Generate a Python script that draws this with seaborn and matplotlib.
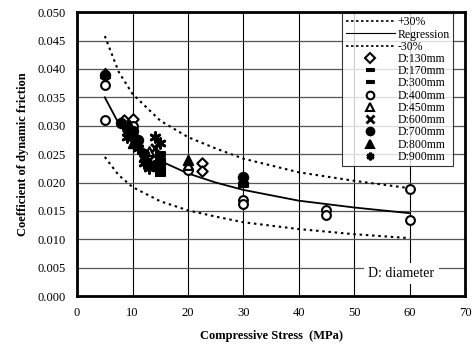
import matplotlib
matplotlib.use('Agg')
import numpy as np
import pandas as pd
import seaborn as sns
import matplotlib.pyplot as plt
from matplotlib.lines import Line2D
from matplotlib.ticker import FormatStrFormatter

# curve values
curve_x = [5, 7.5, 10, 15, 20, 25, 30, 40, 50, 60]
reg_y = [0.0350, 0.0304, 0.0274, 0.0238, 0.0216, 0.0200, 0.0187, 0.0168, 0.0156, 0.0146]
up_y = [0.0458, 0.0395, 0.0356, 0.0309, 0.0280, 0.0260, 0.0242, 0.0218, 0.0203, 0.0190]
lo_y = [0.0245, 0.0213, 0.0192, 0.0167, 0.0151, 0.0140, 0.0130, 0.0118, 0.0109, 0.0102]

# test points per diameter
d130_x = [8.5, 9.5, 10, 22.5, 22.5]
d130_y = [0.0310, 0.0305, 0.0312, 0.0234, 0.0220]
d170_x = [10, 12, 15]
d170_y = [0.0280, 0.0250, 0.0230]
d300_x = [15, 15, 15, 15, 15, 15, 30]
d300_y = [0.0215, 0.0220, 0.0226, 0.0232, 0.0240, 0.0250, 0.0195]
d400_x = [5, 5, 9, 10, 20, 30, 30, 45, 45, 60, 60]
d400_y = [0.0371, 0.0310, 0.0295, 0.0300, 0.0222, 0.0170, 0.0162, 0.0151, 0.0143, 0.0188, 0.0134]
d450_x = [10, 13, 20]
d450_y = [0.0285, 0.0255, 0.0230]
d600_x = [9, 11, 13, 14]
d600_y = [0.0290, 0.0270, 0.0240, 0.0260]
d700_x = [5, 8, 9, 10, 10, 11, 12, 14, 30]
d700_y = [0.0389, 0.0305, 0.0300, 0.0290, 0.0280, 0.0275, 0.0250, 0.0230, 0.0210]
d800_x = [5, 10, 12, 13, 15, 20]
d800_y = [0.0392, 0.0270, 0.0245, 0.0235, 0.0245, 0.0240]
d900_x = [9, 11, 12, 13, 14, 15, 30]
d900_y = [0.0280, 0.0260, 0.0235, 0.0225, 0.0280, 0.0270, 0.0205]

bar_s = [(-1, -0.35), (1, -0.35), (1, 0.35), (-1, 0.35)]
# label, xs, ys, marker, filled, size
groups = [
    ('D:130mm', d130_x, d130_y, 'D', False, 28),
    ('D:170mm', d170_x, d170_y, bar_s, True, 30),
    ('D:300mm', d300_x, d300_y, bar_s, True, 60),
    ('D:400mm', d400_x, d400_y, 'o', False, 40),
    ('D:450mm', d450_x, d450_y, '^', False, 40),
    ('D:600mm', d600_x, d600_y, 'x', True, 40),
    ('D:700mm', d700_x, d700_y, 'o', True, 45),
    ('D:800mm', d800_x, d800_y, '^', True, 45),
    ('D:900mm', d900_x, d900_y, (6, 2, 0), True, 50),
]

plt.rcParams['font.family'] = ['Liberation Serif', 'DejaVu Serif']
plt.rcParams['font.size'] = 9

fig = plt.figure(figsize=(4.73, 3.58), dpi=100)
ax = fig.add_axes([0.163, 0.173, 0.820, 0.793])

ax.grid(axis='x', color='black', lw=0.8)
ax.grid(axis='y', color='#555555', lw=0.9)
ax.set_axisbelow(True)

curves = pd.DataFrame({'x': curve_x, 'reg': reg_y, 'up': up_y, 'lo': lo_y})
sns.lineplot(data=curves, x='x', y='up', ax=ax, color='black', lw=1.5, linestyle=(0, (1.2, 1.8)))
sns.lineplot(data=curves, x='x', y='reg', ax=ax, color='black', lw=1.3)
sns.lineplot(data=curves, x='x', y='lo', ax=ax, color='black', lw=1.5, linestyle=(0, (1.2, 1.8)))

handles = [
    Line2D([], [], color='black', lw=1.2, linestyle=(0, (1.5, 1.5)), label='+30%'),
    Line2D([], [], color='black', lw=0.8, label='Regression'),
    Line2D([], [], color='black', lw=1.2, linestyle=(0, (1.5, 1.5)), label='-30%'),
]
for lab, xs, ys, mk, filled, sz in groups:
    df = pd.DataFrame({'x': xs, 'y': ys})
    fc = 'black' if filled else 'white'
    lw = 2.0 if mk in ('x', (6, 2, 0)) else 1.5
    sns.scatterplot(data=df, x='x', y='y', ax=ax, marker=mk, s=sz, color=fc,
                    edgecolor='black', linewidth=lw, zorder=3)
    handles.append(Line2D([], [], linestyle='none', marker=mk, markersize=5.5,
                          markerfacecolor=fc, markeredgecolor='black', markeredgewidth=lw, label=lab))

ax.set_xlim(0, 70)
ax.set_ylim(0, 0.050)
ax.set_xticks(range(0, 71, 10))
ax.set_yticks(np.arange(0, 0.0501, 0.005))
ax.yaxis.set_major_formatter(FormatStrFormatter('%.3f'))
ax.tick_params(length=0, pad=8)
for sp in ax.spines.values():
    sp.set_linewidth(2)
    sp.set_color('black')

ax.set_xlabel('Compressive Stress  (MPa)', fontweight='bold', fontsize=9, labelpad=8)
ax.set_ylabel('Coefficient of dynamic friction', fontweight='bold', fontsize=9, labelpad=6)

leg = ax.legend(handles=handles, loc='upper right', bbox_to_anchor=(0.97, 0.998),
                borderaxespad=0, fontsize=8.5, frameon=True, fancybox=False, edgecolor='black',
                handlelength=4.2, handletextpad=0.2, labelspacing=0.02, borderpad=0.3)
leg.get_frame().set_linewidth(0.8)

ax.text(64.5, 0.0040, 'D: diameter', ha='right', va='center', fontsize=10,
        bbox=dict(facecolor='white', edgecolor='none', pad=3))

plt.savefig('out.png', dpi=100)
